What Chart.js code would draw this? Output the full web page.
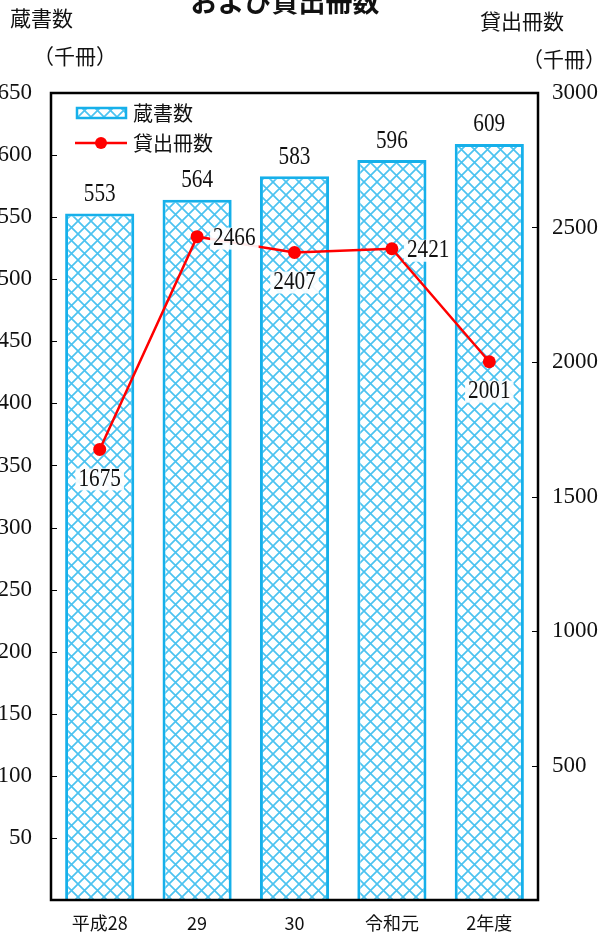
<!DOCTYPE html>
<html>
<head>
<meta charset="utf-8">
<script src="https://cdn.jsdelivr.net/npm/chart.js@4.4.1/dist/chart.umd.min.js"></script>
<style>
html,body{margin:0;padding:0;background:#fff;}
canvas{display:block;}
</style>
</head>
<body>
<canvas id="c" width="608" height="938"></canvas>
<script>
// ---- data ----
const categories = ['平成28', '29', '30', '令和元', '2年度'];
const holdings = [553, 564, 583, 596, 609];        // 蔵書数 (千冊)
const loans = [1675, 2466, 2407, 2421, 2001];      // 貸出冊数 (千冊)
const leftTicks = [0, 650, 50];                    // min, max, step
const rightTicks = [0, 3000, 500];
const seriesNames = ['蔵書数', '貸出冊数'];
const chartTitle = 'および貸出冊数';
const leftTitle = ['蔵書数', '（千冊）'];
const rightTitle = ['貸出冊数', '（千冊）'];

// ---- styles ----
const NUM_FONT = '"Liberation Serif", serif';
const JP_FONT = '"Noto Sans CJK JP", "Noto Sans", sans-serif';
const hatchColor = '#4cc3f0';
const barBorder = '#16b0ea';
const lineColor = '#ff0000';

function makeHatch() {
  const s = 13;
  const t = document.createElement('canvas');
  t.width = s; t.height = s;
  const g = t.getContext('2d');
  g.fillStyle = '#ffffff';
  g.fillRect(0, 0, s, s);
  g.strokeStyle = hatchColor;
  g.lineWidth = 1.7;
  g.beginPath();
  g.moveTo(-1, -1); g.lineTo(s + 1, s + 1);
  g.moveTo(s + 1, -1); g.lineTo(-1, s + 1);
  g.stroke();
  return g.createPattern(t, 'repeat');
}
const hatch = makeHatch();

// label placement for line values: [dx, dy, align]
const loanLabelPlace = [
  [0, 30, 'center'], [16, 2, 'left'], [0, 30, 'center'], [15, 2, 'left'], [0, 30, 'center']
];

const decor = {
  id: 'decor',
  afterDatasetsDraw(chart) {
    const ctx = chart.ctx;
    // bar value labels
    const barMeta = chart.getDatasetMeta(0);
    ctx.save();
    ctx.fillStyle = '#111';
    ctx.textAlign = 'center';
    ctx.textBaseline = 'middle';
    barMeta.data.forEach((el, i) => {
      ctx.save();
      ctx.translate(el.x, el.y - 19);
      ctx.scale(0.85, 1);
      ctx.font = '25px ' + NUM_FONT;
      ctx.fillText(String(holdings[i]), 0, 0);
      ctx.restore();
    });
    // line value labels
    const lineMeta = chart.getDatasetMeta(1);
    lineMeta.data.forEach((el, i) => {
      const p = loanLabelPlace[i];
      const txt = String(loans[i]);
      ctx.save();
      ctx.font = '25px ' + NUM_FONT;
      const w = ctx.measureText(txt).width * 0.85;
      let cx = el.x + p[0];
      if (p[2] === 'left') cx += w / 2;
      const cy = el.y + p[1];
      ctx.fillStyle = 'rgba(255,255,255,0.92)';
      ctx.fillRect(cx - w / 2 - 3, cy - 11, w + 6, 22);
      ctx.translate(cx, cy);
      ctx.scale(0.85, 1);
      ctx.fillStyle = '#111';
      ctx.textAlign = 'center';
      ctx.textBaseline = 'middle';
      ctx.fillText(txt, 0, 0);
      ctx.restore();
    });
    ctx.restore();
  },
  afterDraw(chart) {
    const ctx = chart.ctx;
    const a = chart.chartArea;
    ctx.save();
    // frame
    ctx.strokeStyle = '#000';
    ctx.lineWidth = 2.5;
    ctx.strokeRect(a.left, a.top, a.right - a.left, a.bottom - a.top);
    // inward tick marks
    ctx.lineWidth = 1.2;
    const yl = chart.scales.y, yr = chart.scales.y1;
    ctx.beginPath();
    yl.ticks.forEach(t => {
      if (t.value <= 0 || t.value >= leftTicks[1]) return;
      const y = Math.round(yl.getPixelForValue(t.value)) + 0.5;
      ctx.moveTo(a.left, y); ctx.lineTo(a.left + 6, y);
    });
    yr.ticks.forEach(t => {
      if (t.value <= 0 || t.value >= rightTicks[1]) return;
      const y = Math.round(yr.getPixelForValue(t.value)) + 0.5;
      ctx.moveTo(a.right, y); ctx.lineTo(a.right - 6, y);
    });
    ctx.stroke();

    // titles
    ctx.fillStyle = '#111';
    ctx.textBaseline = 'middle';
    ctx.font = 'bold 27px ' + JP_FONT;
    ctx.textAlign = 'center';
    ctx.fillText(chartTitle, 285, 2);
    ctx.font = '21px ' + JP_FONT;
    ctx.textAlign = 'left';
    ctx.fillText(leftTitle[0], 10, 18);
    ctx.fillText(leftTitle[1], 33, 56);
    ctx.fillText(rightTitle[0], 480, 21);
    ctx.fillText(rightTitle[1], 522, 59);

    // legend
    ctx.fillStyle = hatch;
    ctx.fillRect(77, 108, 49, 10);
    ctx.strokeStyle = barBorder;
    ctx.lineWidth = 2.5;
    ctx.strokeRect(77, 108, 49, 10);
    ctx.strokeStyle = lineColor;
    ctx.lineWidth = 2.5;
    ctx.beginPath();
    ctx.moveTo(75, 143); ctx.lineTo(127, 143);
    ctx.stroke();
    ctx.fillStyle = lineColor;
    ctx.beginPath();
    ctx.arc(101, 143, 6, 0, Math.PI * 2);
    ctx.fill();
    ctx.fillStyle = '#111';
    ctx.font = '20px ' + JP_FONT;
    ctx.fillText(seriesNames[0], 133, 113);
    ctx.fillText(seriesNames[1], 133, 143);
    ctx.restore();
  }
};

new Chart(document.getElementById('c'), {
  data: {
    labels: categories,
    datasets: [
      {
        type: 'bar',
        label: seriesNames[0],
        data: holdings,
        yAxisID: 'y',
        backgroundColor: hatch,
        borderColor: barBorder,
        borderWidth: 3,
        barPercentage: 0.71,
        categoryPercentage: 1.0,
        order: 2
      },
      {
        type: 'line',
        label: seriesNames[1],
        data: loans,
        yAxisID: 'y1',
        borderColor: lineColor,
        backgroundColor: lineColor,
        borderWidth: 2.5,
        pointRadius: 6.5,
        pointBackgroundColor: lineColor,
        pointBorderWidth: 0,
        tension: 0,
        order: 1
      }
    ]
  },
  options: {
    responsive: false,
    animation: false,
    devicePixelRatio: 1,
    layout: { padding: { top: 93, left: 0, right: 0, bottom: 0 } },
    plugins: { legend: { display: false }, tooltip: { enabled: false }, title: { display: false } },
    scales: {
      x: {
        grid: { display: false, drawTicks: false },
        border: { display: false },
        ticks: { color: '#111', font: { family: JP_FONT, size: 18 }, padding: 12, maxRotation: 0 },
        afterFit(s) { s.height = 38; }
      },
      y: {
        position: 'left',
        min: leftTicks[0], max: leftTicks[1],
        grid: { display: false, drawTicks: false },
        border: { display: false },
        ticks: {
          stepSize: leftTicks[2], color: '#111', padding: 19,
          font: { family: NUM_FONT, size: 23 },
          callback: v => (v === 0 ? '' : v)
        },
        afterFit(s) { s.width = 51; }
      },
      y1: {
        position: 'right',
        min: rightTicks[0], max: rightTicks[1],
        grid: { display: false, drawTicks: false },
        border: { display: false },
        ticks: {
          stepSize: rightTicks[2], color: '#111', padding: 14,
          font: { family: NUM_FONT, size: 23 },
          callback: v => (v === 0 ? '' : v)
        },
        afterFit(s) { s.width = 70; }
      }
    }
  },
  plugins: [decor]
});
</script>
</body>
</html>
